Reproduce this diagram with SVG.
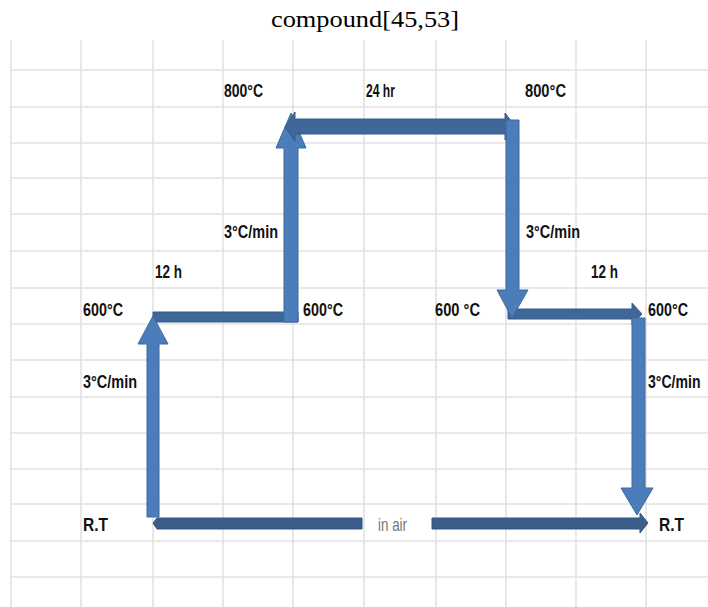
<svg xmlns="http://www.w3.org/2000/svg" width="708" height="607" viewBox="0 0 708 607">
<style>
.grid line{stroke:#e2e2e2;stroke-width:1.6}
.lbl{font-family:"Liberation Sans",Arial,sans-serif;font-weight:bold;font-size:19px;fill:#111}
.air{font-family:"Liberation Sans",Arial,sans-serif;font-size:19px;fill:#777}
.title{font-family:"Liberation Serif","Times New Roman",serif;font-size:23px;fill:#000}
.v{fill:#4a7dba;stroke:#3d6aa0;stroke-width:1}
.h{fill:#3f6799;stroke:#375c8a;stroke-width:1}
.b{fill:#3a5d8a;stroke:#34557f;stroke-width:1}
</style>
<rect width="708" height="607" fill="#fff"/>
<g class="grid" id="grid">
<line x1="11" y1="40" x2="11" y2="607"/>
<line x1="81" y1="40" x2="81" y2="607"/>
<line x1="153" y1="40" x2="153" y2="607"/>
<line x1="223" y1="40" x2="223" y2="607"/>
<line x1="293" y1="40" x2="293" y2="607"/>
<line x1="364" y1="40" x2="364" y2="607"/>
<line x1="436" y1="40" x2="436" y2="607"/>
<line x1="506" y1="40" x2="506" y2="607"/>
<line x1="576" y1="40" x2="576" y2="607"/>
<line x1="646" y1="40" x2="646" y2="607"/>
<line x1="11" y1="70" x2="708" y2="70"/>
<line x1="11" y1="107" x2="708" y2="107"/>
<line x1="11" y1="143" x2="708" y2="143"/>
<line x1="11" y1="178" x2="708" y2="178"/>
<line x1="11" y1="214" x2="708" y2="214"/>
<line x1="11" y1="251" x2="708" y2="251"/>
<line x1="11" y1="288" x2="708" y2="288"/>
<line x1="11" y1="324" x2="708" y2="324"/>
<line x1="11" y1="360" x2="708" y2="360"/>
<line x1="11" y1="397" x2="708" y2="397"/>
<line x1="11" y1="433" x2="708" y2="433"/>
<line x1="11" y1="469" x2="708" y2="469"/>
<line x1="11" y1="504" x2="708" y2="504"/>
<line x1="11" y1="541" x2="708" y2="541"/>
<line x1="11" y1="577" x2="708" y2="577"/>
</g>
<text class="title" x="365" y="27" text-anchor="middle" textLength="188" lengthAdjust="spacingAndGlyphs">compound[45,53]</text>
<g id="connectors">
<polygon class="h" points="153,312 298,312 298,322 153,322"/>
<polygon class="v" points="147,517 159,517 159,344 168,344 153,316 138,344 147,344"/>
<polygon class="v" points="284,322 298,322 298,148 306,148 291,113 276,148 284,148"/>
<polygon class="h" points="285,127 295,112 295,119 505,119 505,113 515,126 505,140 505,134 295,134 295,141"/>
<polygon class="h" points="508,309 632,309 632,303 642,314 632,325 632,319 508,319"/>
<polygon class="v" points="506,120 519,120 519,290 528,290 512,318 497,290 506,290"/>
<polygon class="v" points="632,318 645,318 645,488 653,488 637,515 621,488 632,488"/>
<polygon class="b" points="153,523 157,518 362,518 362,529 157,529"/>
<polygon class="b" points="432,518 640,518 640,513 648,523 640,533 640,529 432,529"/>
</g>
<g id="labels">
<g id="t800a"><text class="lbl" x="224" y="97" textLength="39" lengthAdjust="spacingAndGlyphs">800°C</text></g>
<g id="t24"><text class="lbl" x="366" y="97" textLength="29" lengthAdjust="spacingAndGlyphs">24 hr</text></g>
<g id="t800b"><text class="lbl" x="525" y="97" textLength="41" lengthAdjust="spacingAndGlyphs">800°C</text></g>
<g id="tr1"><text class="lbl" x="224" y="238" textLength="54" lengthAdjust="spacingAndGlyphs">3°C/min</text></g>
<g id="tr2"><text class="lbl" x="526" y="238" textLength="54" lengthAdjust="spacingAndGlyphs">3°C/min</text></g>
<g id="th1"><text class="lbl" x="155" y="278" textLength="27" lengthAdjust="spacingAndGlyphs">12 h</text></g>
<g id="th2"><text class="lbl" x="591" y="278" textLength="27" lengthAdjust="spacingAndGlyphs">12 h</text></g>
<g id="t600a"><text class="lbl" x="83" y="316" textLength="40" lengthAdjust="spacingAndGlyphs">600°C</text></g>
<g id="t600b"><text class="lbl" x="303" y="316" textLength="40" lengthAdjust="spacingAndGlyphs">600°C</text></g>
<g id="t600c"><text class="lbl" x="435" y="316" textLength="45" lengthAdjust="spacingAndGlyphs">600 °C</text></g>
<g id="t600d"><text class="lbl" x="648" y="316" textLength="40" lengthAdjust="spacingAndGlyphs">600°C</text></g>
<g id="tr3"><text class="lbl" x="83" y="388" textLength="54" lengthAdjust="spacingAndGlyphs">3°C/min</text></g>
<g id="tr4"><text class="lbl" transform="translate(648,388) scale(0.74,1)">3°C/min</text></g>
<g id="trt1"><text class="lbl" x="83" y="531" textLength="25" lengthAdjust="spacingAndGlyphs">R.T</text></g>
<g id="tair"><text class="air" x="378" y="531" textLength="29" lengthAdjust="spacingAndGlyphs">in air</text></g>
<g id="trt2"><text class="lbl" x="659" y="531" textLength="25" lengthAdjust="spacingAndGlyphs">R.T</text></g>
</g>
</svg>
